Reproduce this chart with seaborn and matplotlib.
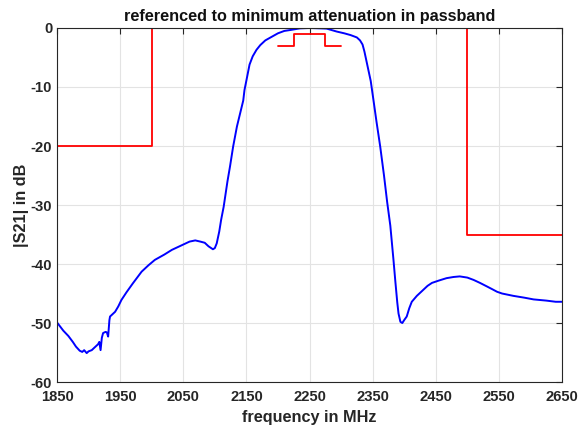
import matplotlib
import seaborn as sns

matplotlib.use("Agg")
import matplotlib.pyplot as plt


# measured filter response |S21| (dB) vs frequency (MHz)
freq_mhz = [
    1850, 1855, 1860, 1868, 1875, 1880, 1886, 1890, 1893, 1897, 1900, 1905,
    1910, 1915, 1917, 1919, 1921, 1923, 1927, 1929, 1931, 1933, 1934, 1938,
    1942, 1947, 1952, 1960, 1970, 1984, 1995, 2005, 2020, 2032, 2050, 2060,
    2069, 2077, 2084, 2090, 2097, 2100, 2103, 2107, 2110, 2114, 2120, 2124,
    2129, 2135, 2140, 2145, 2147, 2150, 2155, 2160, 2166, 2172, 2180, 2190,
    2200, 2210, 2222, 2235, 2250, 2265, 2277, 2285, 2293, 2305, 2315, 2325,
    2330, 2334, 2337, 2341, 2347, 2351, 2356, 2362, 2368, 2373, 2378, 2383,
    2386, 2389, 2391, 2394, 2397, 2400, 2404, 2408, 2412, 2420, 2430, 2437,
    2444, 2455, 2467, 2478, 2488, 2500, 2510, 2520, 2531, 2540, 2547, 2555,
    2573, 2590, 2605, 2625, 2640, 2650,
]
s21_db = [
    -49.9, -50.6, -51.3, -52.2, -53.2, -54.0, -54.7, -54.9, -54.6, -55.1, -54.8, -54.6,
    -54.1, -53.6, -53.2, -54.6, -52.5, -51.7, -51.5, -51.6, -52.3, -49.5, -48.9, -48.5,
    -48.1, -47.2, -46.1, -44.8, -43.3, -41.3, -40.2, -39.3, -38.4, -37.6, -36.7, -36.2,
    -36.0, -36.2, -36.4, -37.0, -37.5, -37.3, -36.5, -34.5, -32.5, -30.3, -26.0, -23.5,
    -20.1, -16.7, -14.5, -12.3, -10.5, -8.9, -6.2, -4.8, -3.7, -2.9, -2.1, -1.5,
    -0.9, -0.5, -0.3, -0.06, 0.0, -0.05, -0.1, -0.35, -0.6, -0.9, -1.2, -1.6,
    -2.1, -2.8, -4.0, -6.0, -9.0, -12.0, -15.8, -20.1, -25.0, -29.5, -33.5, -39.3,
    -43.0, -46.5, -48.4, -49.8, -50.0, -49.5, -48.9, -47.5, -46.4, -45.4, -44.4, -43.7,
    -43.2, -42.8, -42.4, -42.2, -42.1, -42.3, -42.7, -43.2, -43.8, -44.3, -44.7, -45.0,
    -45.4, -45.7, -46.0, -46.2, -46.4, -46.4,
]

# specification masks
low_mask_f = [1850, 2000, 2000]
low_mask_db = [-20, -20, 0]
pass_mask_f = [2200, 2225, 2225, 2275, 2275, 2300]
pass_mask_db = [-3, -3, -1, -1, -3, -3]
high_mask_f = [2500, 2500, 2650]
high_mask_db = [0, -35, -35]

x_ticks = list(range(1850, 2651, 100))
y_ticks = list(range(-60, 1, 10))


def configure_plot_style() -> None:
    sns.set_theme(style="white")
    plt.rcParams.update(
        {
            "font.family": ["Liberation Sans", "DejaVu Sans"],
            "font.weight": "bold",
            "axes.unicode_minus": False,
            "axes.labelweight": "bold",
            "axes.titleweight": "bold",
            "axes.edgecolor": "#262626",
            "axes.linewidth": 0.8,
            "xtick.direction": "in",
            "ytick.direction": "in",
            "xtick.top": True,
            "ytick.right": True,
            "xtick.color": "#262626",
            "ytick.color": "#262626",
            "xtick.labelcolor": "#262626",
            "ytick.labelcolor": "#262626",
        }
    )


def main() -> None:
    configure_plot_style()
    fig = plt.figure(figsize=(5.8, 4.32), dpi=100)
    ax = fig.add_axes([0.0983, 0.1157, 0.8707, 0.8195])

    for mf, mdb in [(low_mask_f, low_mask_db), (pass_mask_f, pass_mask_db), (high_mask_f, high_mask_db)]:
        sns.lineplot(x=mf, y=mdb, sort=False, estimator=None, color="#ff0000", linewidth=1.3, ax=ax)
    sns.lineplot(x=freq_mhz, y=s21_db, sort=False, estimator=None, color="#0000ff", linewidth=1.4, ax=ax)

    ax.set_xlim(1850, 2650)
    ax.set_ylim(-60, 0)
    ax.set_xticks(x_ticks)
    ax.set_yticks(y_ticks)
    ax.tick_params(axis="both", labelsize=10.6, length=4, width=0.8)
    ax.tick_params(axis="x", pad=6)
    ax.tick_params(axis="y", pad=3.5)
    for lbl in ax.get_xticklabels() + ax.get_yticklabels():
        lbl.set_fontweight("bold")
    ax.grid(True, color="#e3e3e3", linewidth=0.8)
    ax.set_axisbelow(True)
    for spine in ax.spines.values():
        spine.set_visible(True)
        spine.set_color("#262626")

    ax.set_title("referenced to minimum attenuation in passband", fontsize=11.7, fontweight="bold", color="#111111", pad=5)
    ax.set_xlabel("frequency in MHz", fontsize=11.7, fontweight="bold", color="#262626", labelpad=4)
    ax.set_ylabel("|S21| in dB", fontsize=11.7, fontweight="bold", color="#262626", labelpad=1.5)

    fig.savefig("out.png", dpi=100)
    plt.close(fig)


if __name__ == "__main__":
    main()
